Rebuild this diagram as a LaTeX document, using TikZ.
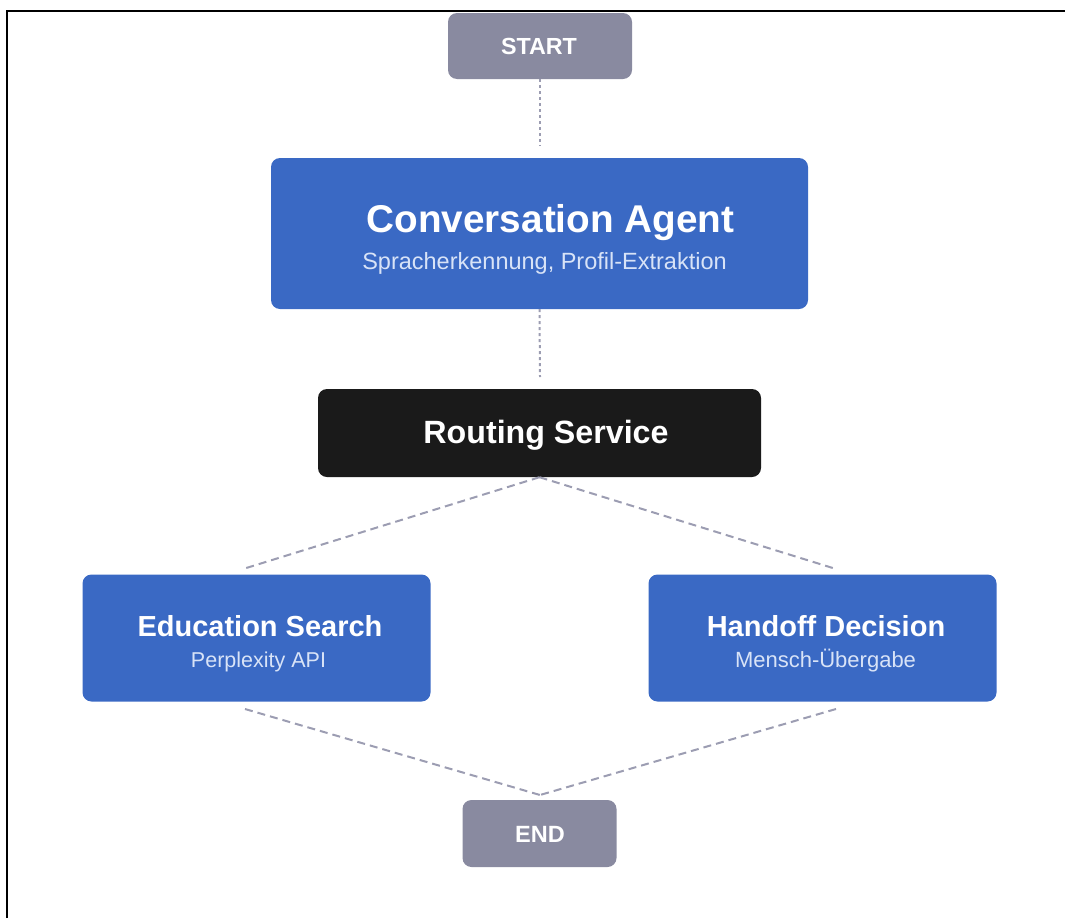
\documentclass[tikz,border=0pt]{standalone}
\usepackage{fontspec}
\setmainfont{Liberation Sans}
\definecolor{boxblue}{HTML}{3A69C4}
\definecolor{boxgray}{HTML}{898AA0}
\definecolor{boxblack}{HTML}{1A1A1A}
\definecolor{linegray}{HTML}{9C9DB2}
\definecolor{subtxt}{HTML}{D8E3F7}
\begin{document}
\begin{tikzpicture}[x=1pt,y=-1pt,
  box/.style={draw=none,rounded corners=9pt,inner sep=0pt},
  graybox/.style={box,fill=boxgray,minimum width=184pt,minimum height=66pt},
  bluebox/.style={box,fill=boxblue},
  blackbox/.style={box,fill=boxblack,minimum width=443pt,minimum height=88pt},
  title/.style={text=white,font=\bfseries,anchor=base,inner sep=0pt},
  sub/.style={text=subtxt,font=\fontsize{21.5}{24}\selectfont,anchor=base,inner sep=0pt},
  vconn/.style={draw=linegray,line width=2pt,dash pattern=on 3pt off 3pt},
  dconn/.style={draw=linegray,line width=2pt,dash pattern=on 8pt off 5pt},
  frameline/.style={draw=black,line width=2pt}]
\useasboundingbox (0,0) rectangle (1065,918);
\draw[frameline] (7,918) -- (7,11) -- (1065,11);
% boxes
\node[graybox] (start) at (540,46) {};
\node[bluebox,minimum width=537pt,minimum height=151pt] (conv) at (539.5,233.5) {};
\node[blackbox] (route) at (539.5,433) {};
\node[bluebox,minimum width=348pt,minimum height=127pt] (edu) at (256.5,638) {};
\node[bluebox,minimum width=348pt,minimum height=127pt] (hand) at (822.5,638) {};
\node[graybox,minimum width=154pt,minimum height=67pt] (end) at (539.5,833.5) {};
% texts
\node[title,font=\bfseries\fontsize{23.3}{26}\selectfont] (starttxt) at (539,54) {START};
\node[title,font=\bfseries\fontsize{38.7}{42}\selectfont] (convtxt) at (550.5,232) {Conversation Agent};
\node[sub,font=\fontsize{23.5}{26}\selectfont] (convsub) at (544.5,269.5) {Spracherkennung, Profil-Extraktion};
\node[title,font=\bfseries\fontsize{32.2}{35}\selectfont] (routetxt) at (546,443.5) {Routing Service};
\node[title,font=\bfseries\fontsize{29}{32}\selectfont] (edutxt) at (260,636) {Education Search};
\node[sub] (edusub) at (258.5,667) {Perplexity API};
\node[title,font=\bfseries\fontsize{29}{32}\selectfont] (handtxt) at (826,636) {Handoff Decision};
\node[sub,font=\fontsize{22}{24}\selectfont] (handsub) at (825.5,667) {Mensch-Übergabe};
\node[title,font=\bfseries\fontsize{23.5}{26}\selectfont] (endtxt) at (540,842) {END};
% connector end points
\coordinate (convin) at (540,146);
\coordinate (routein) at (540,377);
\coordinate (eduin) at (243,569);
\coordinate (handin) at (836,569);
\coordinate (eduout) at (245,709);
\coordinate (handout) at (836,709);
\coordinate (endin) at (540,795);
% connectors
\draw[vconn] (start.south) -- (convin);
\draw[vconn] (conv.south) -- (routein);
\draw[dconn] (route.south) -- (eduin);
\draw[dconn] (route.south) -- (handin);
\draw[dconn] (eduout) -- (endin);
\draw[dconn] (handout) -- (endin);
\end{tikzpicture}
\end{document}
